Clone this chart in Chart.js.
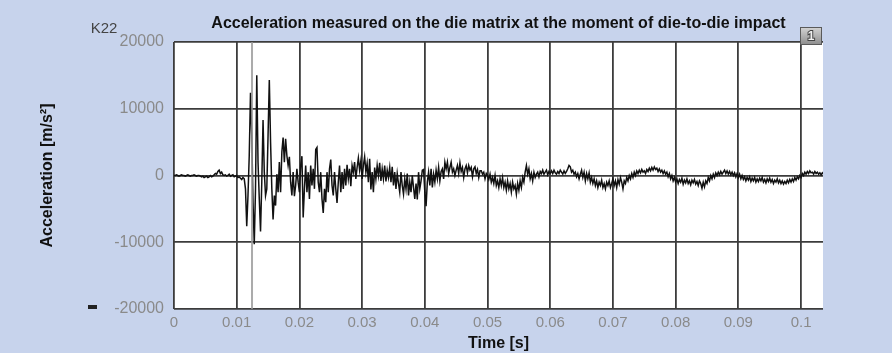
<!DOCTYPE html>
<html>
<head>
<meta charset="utf-8">
<script src="https://cdn.jsdelivr.net/npm/chart.js@4.4.1/dist/chart.umd.min.js"></script>
<style>
  html, body { margin: 0; padding: 0; background: #c7d3ec; }
  #wrap { width: 892px; height: 353px; }
</style>
</head>
<body>
<div id="wrap"><canvas id="accChart"></canvas></div>
<script>
const sampleStep = 0.0002;
const accValues = [
  0, 0, 100, 0, -100, 0, 100, 0, 0, -100, 0, 100, 0, -100, 0, 0, 100, 0, -100, 0, 0,
  -100, -200, -100, -300, -200, -100, -300, -200, 0, -200, -100, 100, 300, 200,
  600, 800, 300, 500, 100, 0,
  100, -100, 0, 200, -100, 0, 100, -200, -100, 0, -300, -200, -400, -600, -300, -500,
  -2000, -7600, -3000, 3000, 12400, 6000, -4000, -10300, -2000, 15000,
  2000, -3500, -8400, -1000, 8300, 500, -3000, -2000, 6000, 14300,
  5000, -2000, -6600, -3000, -4500, 200, -2500, 2000, -2500, 3500,
  5700, 2000, 5500, 3000, 1500, 2800, -1000, -3000, 500, -3100,
  -1500, 1000, -1000, -2500, 1500, 2900, -6300, -2000, 1500, -2500,
  500, -3500, 1500, -1500, 1000, -2000, 3900, 4200, -1000, -2500,
  500, -3500, -5600, -2000, -4000, 500, -2500, 1000, 2400, -1500,
  -3000, 500, -2000, -4100, -1000, 1500, -2500, 500, -2000, 1000,
  -1500, 1600, -500, 1000, -1600, 1500, 500, 2000, -500, 1200,
  2600, 800, 2200, -500, 1500, 2800, 500, 1800, -1000, 2500,
  -2100, 500, -2500, 1200, -500, 1500, 0, 1900, -800, 1000,
  -500, 1500, -900, 800, -300, 1200, -1000, 1300, -1500, 500,
  -2000, 300, -1200, -2500, 500, -1500, -2800, -500, -2000, 300,
  -3000, -1000, -2500, 0, -1800, -3500, -1200, -3600, 500, -2000,
  -800, 800, 900, -2500, -4600, -1000, 500, -1500, 1000, -1800,
  200, -1000, 800, -500, 1200, -800, 600, 1000, -500, 2000,
  1000, 2000, 300, 1200, 2000, 500, 1000, 0, 800, 1500,
  300, 1900, 600, 1200, -300, 1000, 1500, 400, 1500, 800,
  1200, -200, 1000, 1300, 300, 900, -300, 700, 700, 200,
  500, -500, 300, 0, -600, 200, -1000, -300, -1200, 0,
  -1500, -800, -1800, -500, -1500, -300, -1800, -1000, -2200, -800,
  -2000, -1200, -2500, -1000, -2000, -1500, -2800, -1200, -2200, -800,
  -1800, -300, -1000, 500, 1500, 200, 1000, -500, 300, -800,
  500, -300, 200, 500, -200, 600, 300, 800, 200, 500,
  800, 100, 600, 300, 700, 300, 800, 400, 200, 600,
  300, 800, 500, 200, 700, 300, 600, 1000, 1500, 1300,
  500, 800, 200, 500, -200, 300, -500, 200, 800, -300,
  500, -800, 300, -500, 400, -1000, -300, -1200, -500, -1500,
  -800, -1800, -1000, -1500, -700, -1800, -1200, -2000, -1000, -1500,
  -800, -1800, -1200, -500, -1500, -800, -1800, -600, -1300, -300,
  -1000, -2000, -800, -1200, -300, -800, 0, -500, 300, -300,
  500, 0, 700, 300, 800, 400, 900, 500, 700, 300,
  900, 600, 1100, 700, 1200, 800, 1300, 900, 1100, 600,
  1000, 500, 800, 300, 700, 200, 500, -200, 300, -500,
  0, -800, -300, -1000, -500, -1200, -600, -1000, -400, -1300,
  -700, -1100, -500, -1200, -800, -1400, -700, -1100, -600, -1300,
  -900, -1500, -800, -1200, -1900, -1000, -1700, -800, -1200, -300,
  -800, 0, -500, 200, -300, 400, 0, 500, 100, 600,
  200, 500, 800, 300, 700, 200, 600, 100, 500, 0,
  400, -200, 300, -300, 200, -500, 0, -600, -200, -800,
  -300, -700, -200, -900, -400, -800, -300, -1000, -500, -900,
  -400, -800, -300, -1000, -600, -1100, -500, -900, -400, -1000,
  -600, -1200, -700, -1000, -500, -1100, -700, -1200, -800, -1300,
  -900, -1200, -700, -1100, -600, -1000, -500, -900, -300, -700,
  -200, -500, 0, -300, 300, 0, 500, 200, 600, 300,
  700, 400, 500, 200, 600, 300, 500, 200, 400, 100,
  400, 200
];

// cursor line position (s)
const cursorTime = 0.01244;

// axis ranges and tick labels
const xMin = 0, xMax = 0.1035;
const xTicks = [0, 0.01, 0.02, 0.03, 0.04, 0.05, 0.06, 0.07, 0.08, 0.09, 0.1];
const xTickLabels = ['0', '0.01', '0.02', '0.03', '0.04', '0.05', '0.06', '0.07', '0.08', '0.09', '0.1'];
const yMin = -20000, yMax = 20000;
const yTicks = [-20000, -10000, 0, 10000, 20000];
const yTickLabels = ['-20000', '-10000', '0', '10000', '20000'];

const signalPoints = accValues.map((v, i) => ({ x: i * sampleStep, y: v }));
const cursorPoints = [{ x: cursorTime, y: yMin }, { x: cursorTime, y: yMax }];

const FONT = '"Liberation Sans", Arial, sans-serif';

const frame = {
  id: 'frame',
  beforeDraw(chart) {
    const { ctx, chartArea: a } = chart;
    ctx.save();
    ctx.fillStyle = '#c7d3ec';
    ctx.fillRect(0, 0, chart.width, chart.height);
    ctx.fillStyle = '#ffffff';
    ctx.fillRect(a.left, a.top, a.right - a.left, a.bottom - a.top);
    ctx.restore();
  },
  afterDraw(chart) {
    const { ctx, chartArea: a } = chart;
    ctx.save();
    // channel name
    ctx.fillStyle = '#444';
    ctx.font = '15px ' + FONT;
    ctx.textAlign = 'center';
    ctx.textBaseline = 'middle';
    ctx.fillText('K22', 104, 29);
    // little marker next to the bottom label
    ctx.fillStyle = '#222';
    ctx.fillRect(88, 305, 9, 4);
    // page button
    const bx = a.right - 23, by = a.top - 15, bw = 22, bh = 18;
    const g = ctx.createLinearGradient(0, by, 0, by + bh);
    g.addColorStop(0, '#d4d4d4');
    g.addColorStop(1, '#8c8c8c');
    ctx.fillStyle = g;
    ctx.fillRect(bx, by, bw, bh);
    ctx.strokeStyle = '#5a5a5a';
    ctx.lineWidth = 1;
    ctx.strokeRect(bx + 0.5, by + 0.5, bw - 1, bh - 1);
    ctx.font = 'bold 12px ' + FONT;
    ctx.lineWidth = 2;
    ctx.strokeStyle = '#444';
    ctx.strokeText('1', bx + bw / 2, by + bh / 2 + 1);
    ctx.fillStyle = '#f0f0f0';
    ctx.fillText('1', bx + bw / 2, by + bh / 2 + 1);
    ctx.restore();
  }
};

new Chart(document.getElementById('accChart'), {
  type: 'line',
  data: {
    datasets: [
      {
        label: 'cursor',
        data: cursorPoints,
        borderColor: 'rgba(150,150,150,0.8)',
        borderWidth: 2,
        pointRadius: 0
      },
      {
        label: 'K22',
        data: signalPoints,
        borderColor: '#111',
        borderWidth: 1.5,
        pointRadius: 0,
        tension: 0
      }
    ]
  },
  options: {
    responsive: true,
    maintainAspectRatio: false,
    animation: false,
    events: [],
    layout: { padding: { left: 0, right: 69, top: 0, bottom: 0 } },
    plugins: {
      legend: { display: false },
      tooltip: { enabled: false },
      title: {
        display: true,
        fullSize: false,
        text: 'Acceleration measured on the die matrix at the moment of die-to-die impact',
        color: '#111',
        font: { family: FONT, size: 16, weight: 'bold' },
        padding: { top: 14.4, bottom: 8.4 }
      }
    },
    scales: {
      x: {
        type: 'linear',
        min: xMin,
        max: xMax,
        border: { display: false },
        grid: { color: '#3c3c3c', lineWidth: 1.8, drawTicks: false },
        afterBuildTicks: s => { s.ticks = xTicks.map(v => ({ value: v })); },
        ticks: {
          padding: 5,
          color: '#8a8a8a',
          font: { family: FONT, size: 15 },
          callback: (v, i) => xTickLabels[i]
        },
        title: {
          display: true,
          text: 'Time [s]',
          color: '#111',
          font: { family: FONT, size: 16, weight: 'bold' },
          padding: { top: 0, bottom: 0 }
        },
        afterFit: s => { s.height = 44; }
      },
      y: {
        min: yMin,
        max: yMax,
        border: { display: false },
        grid: { color: '#3c3c3c', lineWidth: 1.8, drawTicks: false },
        afterBuildTicks: s => { s.ticks = yTicks.map(v => ({ value: v })); },
        ticks: {
          padding: 10,
          color: '#8a8a8a',
          font: { family: FONT, size: 16 },
          callback: (v, i) => yTickLabels[i]
        },
        title: {
          display: true,
          text: 'Acceleration [m/s²]',
          color: '#111',
          font: { family: FONT, size: 16, weight: 'bold' },
          padding: { top: 38, bottom: 0 }
        },
        afterFit: s => { s.width = 174; }
      }
    }
  },
  plugins: [frame]
});
</script>
</body>
</html>
